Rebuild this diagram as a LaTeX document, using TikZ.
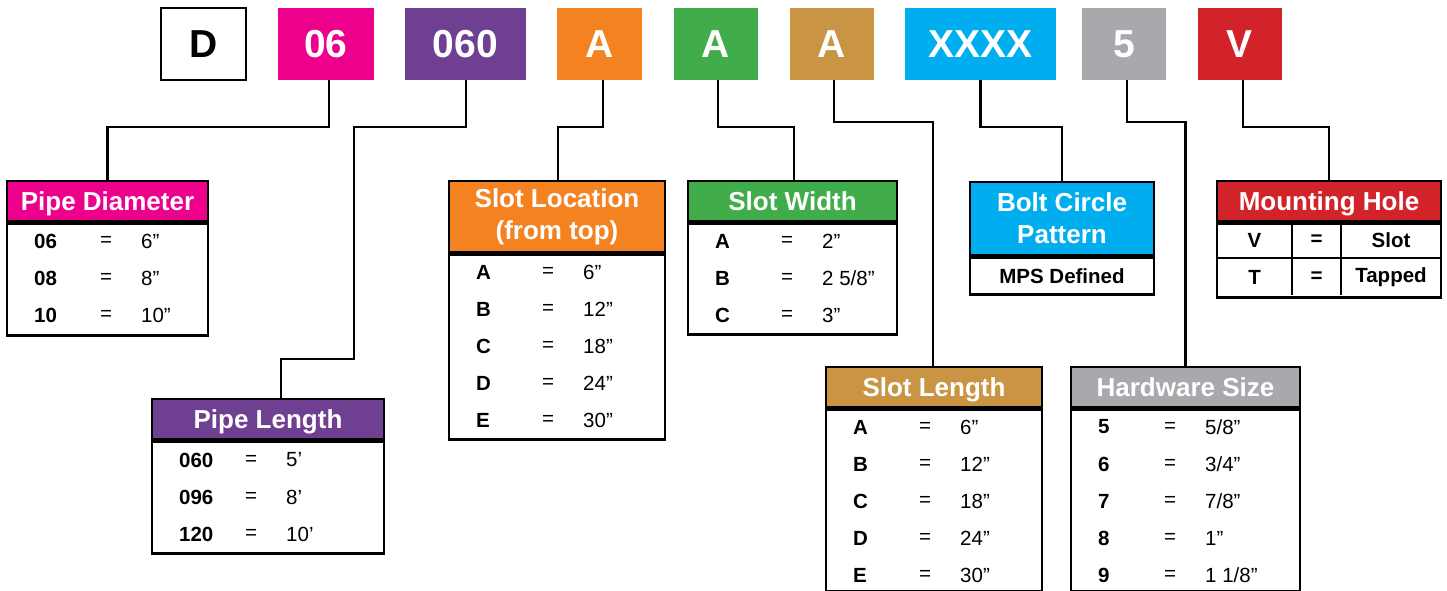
\documentclass[tikz,border=0pt]{standalone}
\usepackage{fontspec}
\setmainfont{Liberation Sans}
\definecolor{cmag}{HTML}{EC008C}
\definecolor{cpur}{HTML}{6F4091}
\definecolor{cora}{HTML}{F58220}
\definecolor{cgre}{HTML}{40AD4A}
\definecolor{ctan}{HTML}{C99545}
\definecolor{ccya}{HTML}{00AEEF}
\definecolor{cgra}{HTML}{A7A9AC}
\definecolor{cred}{HTML}{D2232A}
\newcommand\codefont{\fontsize{39}{44}\selectfont\bfseries}
\newcommand\ttlfont{\fontsize{26}{32}\selectfont\bfseries}
\newcommand\bodyfont{\fontsize{20.5}{24}\selectfont}
\tikzset{
  codebox/.style={inner sep=0pt, minimum height=72pt, text=white, font=\codefont},
  hdr/.style={draw=black, line width=2.5pt, inner sep=0pt, text=white, font=\ttlfont, align=center},
  hdrone/.style={hdr, text height=18.6pt, text depth=0pt},
  tbody/.style={draw=black, line width=2.5pt, fill=white, inner sep=0pt, anchor=north},
  keytxt/.style={anchor=west, inner sep=0pt, font=\bodyfont\bfseries},
  eqtxt/.style={inner sep=0pt, font=\bodyfont},
  valtxt/.style={anchor=west, inner sep=0pt, font=\bodyfont},
  conn/.style={draw=black, line width=2.5pt, line join=miter}
}
% #1 prefix, #2 left x, #3 row centre y, #4 key, #5 value
\newcommand\trow[5]{%
  \node[keytxt] (#1k) at (#2+27,#3) {#4};
  \node[eqtxt] (#1e) at (#2+99,#3) {=};
  \node[valtxt] (#1v) at (#2+134,#3) {#5};
}
\begin{document}
\begin{tikzpicture}[x=1pt,y=-1pt]
\useasboundingbox (0,0) rectangle (1447,591);

% code boxes
\node[codebox, draw=black, line width=2.5pt, text=black, minimum width=85pt, minimum height=72pt] (cD) at (203.5,44) {D};
\node[codebox, fill=cmag, minimum width=96pt] (c06) at (326,44) {06};
\node[codebox, fill=cpur, minimum width=121pt] (c060) at (465.5,44) {060};
\node[codebox, fill=cora, minimum width=85pt] (cA1) at (599.5,44) {A};
\node[codebox, fill=cgre, minimum width=84pt] (cA2) at (716,44) {A};
\node[codebox, fill=ctan, minimum width=84pt] (cA3) at (831.5,44) {A};
\node[codebox, fill=ccya, minimum width=151pt] (cX) at (980.5,44) {XXXX};
\node[codebox, fill=cgra, minimum width=84pt] (c5) at (1124,44) {5};
\node[codebox, fill=cred, minimum width=84pt] (cV) at (1239.5,44) {V};

% Pipe Diameter
\node[hdrone, fill=cmag, minimum width=201pt, minimum height=40pt] (pd) at (107.5,201) {Pipe Diameter};
\node[tbody, minimum width=201pt, minimum height=112pt] (pdb) at (pd.south) {};
\trow{pd1}{7}{241}{06}{6”}
\trow{pd2}{7}{278}{08}{8”}
\trow{pd3}{7}{315}{10}{10”}

% Pipe Length
\node[hdrone, fill=cpur, minimum width=232pt, minimum height=40pt] (pl) at (268,419) {Pipe Length};
\node[tbody, minimum width=232pt, minimum height=112pt] (plb) at (pl.south) {};
\trow{pl1}{152}{460}{060}{5’}
\trow{pl2}{152}{497}{096}{8’}
\trow{pl3}{152}{534}{120}{10’}

% Slot Location
\node[hdr, fill=cora, minimum width=216pt, minimum height=71pt] (sl) at (557,216.5) {Slot Location\\(from top)};
\node[tbody, minimum width=216pt, minimum height=185pt] (slb) at (sl.south) {};
\trow{sl1}{449}{272}{A}{6”}
\trow{sl2}{449}{309}{B}{12”}
\trow{sl3}{449}{346}{C}{18”}
\trow{sl4}{449}{383}{D}{24”}
\trow{sl5}{449}{420}{E}{30”}

% Slot Width
\node[hdrone, fill=cgre, minimum width=209pt, minimum height=40pt] (sw) at (792.5,201) {Slot Width};
\node[tbody, minimum width=209pt, minimum height=111pt] (swb) at (sw.south) {};
\trow{sw1}{688}{241}{A}{2”}
\trow{sw2}{688}{278}{B}{2 5/8”}
\trow{sw3}{688}{315}{C}{3”}

% Bolt Circle Pattern
\node[hdr, fill=ccya, minimum width=184pt, minimum height=73pt] (bc) at (1062,218.5) {Bolt Circle\\Pattern};
\node[tbody, minimum width=184pt, minimum height=37pt, font=\bodyfont\bfseries] (bcb) at (bc.south) {MPS Defined};

% Mounting Hole
\node[hdrone, fill=cred, minimum width=224pt, minimum height=40pt] (mh) at (1329,201) {Mounting Hole};
\node[tbody, minimum width=224pt, minimum height=74pt] (mhb) at (mh.south) {};
\draw[line width=2.5pt] (mhb.west |- 0,258) -- (mhb.east |- 0,258);
\draw[line width=2.5pt] (1292,221) -- (1292,295);
\draw[line width=2.5pt] (1341,221) -- (1341,295);
\node[keytxt, anchor=center] (mh1k) at (1254.5,240) {V};
\node[keytxt, anchor=center] (mh1e) at (1316.5,240) {=};
\node[keytxt, anchor=center] (mh1v) at (1391,240) {Slot};
\node[keytxt, anchor=center] (mh2k) at (1254.5,277) {T};
\node[keytxt, anchor=center] (mh2e) at (1316.5,277) {=};
\node[keytxt, anchor=center] (mh2v) at (1391,277) {Tapped};

% Slot Length
\node[hdrone, fill=ctan, minimum width=216pt, minimum height=40pt] (sn) at (934,387) {Slot Length};
\node[tbody, minimum width=216pt, minimum height=182pt] (snb) at (sn.south) {};
\trow{sn1}{826}{427}{A}{6”}
\trow{sn2}{826}{464}{B}{12”}
\trow{sn3}{826}{501}{C}{18”}
\trow{sn4}{826}{538}{D}{24”}
\trow{sn5}{826}{575}{E}{30”}

% Hardware Size
\node[hdrone, fill=cgra, minimum width=229pt, minimum height=40pt] (hw) at (1185.5,387) {Hardware Size};
\node[tbody, minimum width=229pt, minimum height=182pt] (hwb) at (hw.south) {};
\trow{hw1}{1071}{427}{5}{5/8”}
\trow{hw2}{1071}{464}{6}{3/4”}
\trow{hw3}{1071}{501}{7}{7/8”}
\trow{hw4}{1071}{538}{8}{1”}
\trow{hw5}{1071}{575}{9}{1 1/8”}

% connectors
\draw[conn] ([xshift=3pt]c06.south) -- ++(0,47) -| (pd.north);
\draw[conn] ([xshift=0.5pt]c060.south) -- ++(0,47) -| (354,359) -| ([xshift=13pt]pl.north);
\draw[conn] ([xshift=3.5pt]cA1.south) -- ++(0,47) -| ([xshift=1pt]sl.north);
\draw[conn] ([xshift=2pt]cA2.south) -- ++(0,47) -| ([xshift=1.5pt]sw.north);
\draw[conn] ([xshift=2.5pt]cA3.south) -- ++(0,42) -| ([xshift=-1pt]sn.north);
\draw[conn] (cX.south) -- ++(0,47) -| (bc.north);
\draw[conn] ([xshift=3pt]c5.south) -- ++(0,42) -| (hw.north);
\draw[conn] ([xshift=3.5pt]cV.south) -- ++(0,47) -| (mh.north);
\end{tikzpicture}
\end{document}
